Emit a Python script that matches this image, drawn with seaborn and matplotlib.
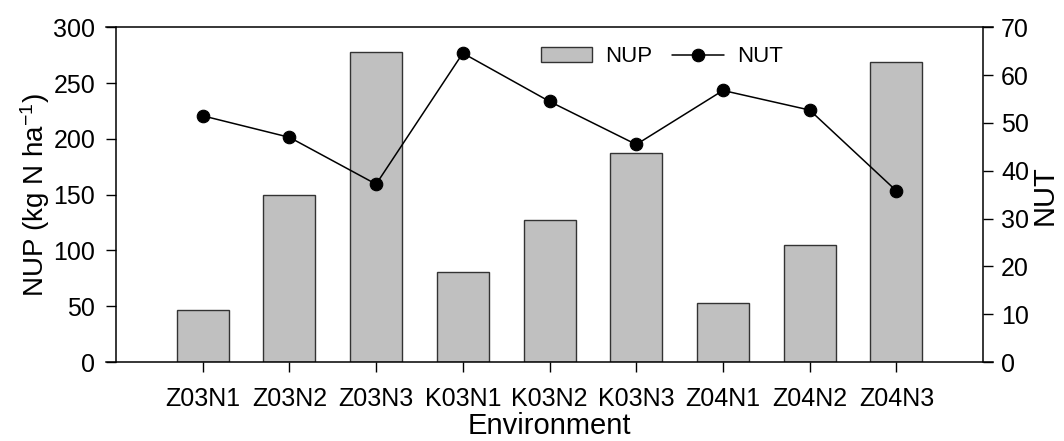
import matplotlib
matplotlib.use('Agg')
import matplotlib.pyplot as plt
import seaborn as sns
import pandas as pd

# values
environments = ['Z03N1', 'Z03N2', 'Z03N3', 'K03N1', 'K03N2', 'K03N3', 'Z04N1', 'Z04N2', 'Z04N3']
nup = [47, 150, 278, 80.5, 127, 187.5, 53, 105, 268.5]
nut = [51.5, 47.0, 37.2, 64.6, 54.5, 45.5, 56.8, 52.7, 35.8]


def make_df():
    return pd.DataFrame({'Environment': environments, 'NUP': nup, 'NUT': nut})


def plot_chart():
    sns.set_style('ticks')
    plt.rcParams['font.family'] = ['Liberation Sans', 'DejaVu Sans']
    plt.rcParams['mathtext.default'] = 'regular'
    for k in ('text.color', 'axes.labelcolor', 'xtick.color', 'ytick.color', 'axes.edgecolor'):
        plt.rcParams[k] = 'black'
    df = make_df()

    fig = plt.figure(figsize=(10.64, 4.41), dpi=100)
    ax = fig.add_axes([0.109, 0.179, 0.815, 0.759])

    sns.barplot(data=df, x='Environment', y='NUP', color='#c0c0c0', width=0.6,
                edgecolor='#333333', linewidth=1.0, saturation=1, ax=ax)
    ax.set_ylim(0, 300)
    ax.set_yticks([0, 50, 100, 150, 200, 250, 300])

    ax2 = ax.twinx()
    sns.pointplot(data=df, x='Environment', y='NUT', color='black', errorbar=None,
                  markers='o', markersize=9, linewidth=1.1, ax=ax2)
    ax2.set_ylim(0, 70)
    ax2.set_yticks([0, 10, 20, 30, 40, 50, 60, 70])

    ax.set_xlim(-1, 9)
    ax2.set_xlim(-1, 9)

    ax.set_xlabel('Environment', fontsize=21, labelpad=1)
    ax.set_ylabel('NUP (kg N ha$^{-1}$)', fontsize=20, labelpad=1)
    ax2.set_ylabel('NUT', fontsize=21, labelpad=1)

    for a in (ax, ax2):
        a.tick_params(axis='both', labelsize=18, length=7, width=1, direction='out', color='black')
        for s in a.spines.values():
            s.set_linewidth(1.1)
            s.set_color('black')
    ax.tick_params(axis='x', pad=11)
    ax.tick_params(axis='y', pad=8)
    ax2.tick_params(axis='y', pad=6)

    # horizontal axis lines run on past the corners, as in the original
    d = 0.115
    ax.spines['bottom'].set_bounds(-1 - d, 9 + d)
    ax.spines['top'].set_bounds(-1 - d, 9 + d)
    ax.spines['top'].set_visible(True)
    ax.spines['right'].set_visible(False)
    for k in ('top', 'bottom', 'left'):
        ax2.spines[k].set_visible(False)

    handles = [ax.patches[0], ax2.lines[0]]
    ax2.legend(handles, ['NUP', 'NUT'], loc='center left', bbox_to_anchor=(0.49, 0.912),
               ncol=2, frameon=False, fontsize=16, handlelength=2.3, handletextpad=0.6,
               columnspacing=0.9, borderpad=0, borderaxespad=0)

    fig.savefig('out.png', dpi=100)


if __name__ == '__main__':
    plot_chart()
